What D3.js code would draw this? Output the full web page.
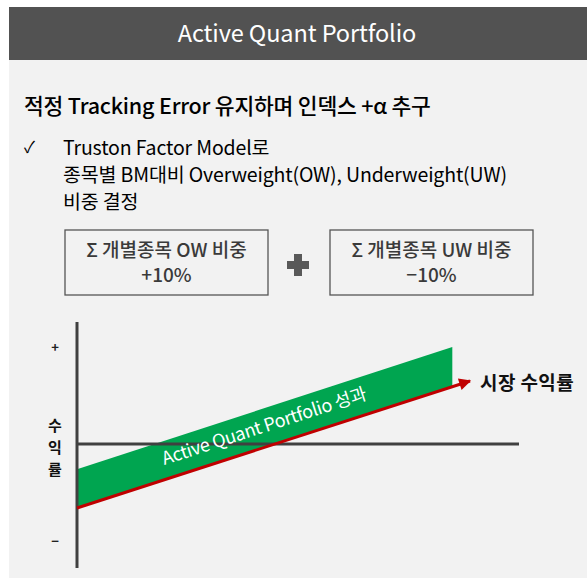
<!DOCTYPE html>
<html>
<head>
<meta charset="utf-8">
<script src="https://cdn.jsdelivr.net/npm/d3@7"></script>
<style>
  body { margin: 0; background: #fff; }
  svg { display: block; font-family: "Noto Sans CJK KR", "Noto Sans", sans-serif; }
</style>
</head>
<body>
<div class="chart"></div>
<script>
// Chart values
var headerTitle = "Active Quant Portfolio";
var subTitle = "적정 Tracking Error 유지하며 인덱스 +α 추구";
var bulletLines = ["Truston Factor Model로", "종목별 BM대비 Overweight(OW), Underweight(UW)", "비중 결정"];
var boxLabels = ["Σ 개별종목 OW 비중", "Σ 개별종목 UW 비중"];
var boxValues = ["+10%", "−10%"];
var yTickLabels = ["+", "−"];
var yTickValues = [1, -1];
var yAxisLabel = ["수", "익", "률"];

// Market return line (x, y) and portfolio band upper edge
var marketX = [0, 1];
var marketY = [-0.66, 0.65];
var portfolioX = [0, 0.955];
var portfolioTop = [-0.26, 1.0];
var marketLabel = "시장 수익률";
var bandLabel = "Active Quant Portfolio 성과";

var svgWidth = 587;
var svgHeight = 578;

var svg = d3.select(".chart")
  .append("svg")
  .attr("width", svgWidth)
  .attr("height", svgHeight);

// Background panel and header bar
svg.append("rect")
  .attr("x", 9).attr("y", 60)
  .attr("width", svgWidth - 9).attr("height", svgHeight - 60)
  .attr("fill", "#f2f2f2");

svg.append("rect")
  .attr("x", 9).attr("y", 7)
  .attr("width", svgWidth - 9).attr("height", 53)
  .attr("fill", "#525252");

svg.append("text")
  .attr("x", 297).attr("y", 42)
  .attr("text-anchor", "middle")
  .attr("fill", "#fff")
  .attr("font-size", 23.5)
  .attr("letter-spacing", -0.1)
  .text(headerTitle);

svg.append("text")
  .attr("x", 24).attr("y", 114)
  .attr("fill", "#000")
  .attr("font-size", 21.5)
  .attr("font-weight", 500)
  .attr("letter-spacing", -0.2)
  .text(subTitle);

// Bullet text
svg.append("text")
  .attr("x", 24).attr("y", 153)
  .attr("font-size", 16)
  .attr("fill", "#000")
  .text("✓");

svg.selectAll(".bullet")
  .data(bulletLines)
  .enter()
  .append("text")
  .attr("class", "bullet")
  .attr("x", 63)
  .attr("y", (d, i) => 155 + i * 27)
  .attr("font-size", 19.5)
  .attr("letter-spacing", -0.15)
  .attr("fill", "#000")
  .text(d => d);

// Boxes
var boxX = [65, 330];
var boxGroup = svg.selectAll(".box")
  .data(boxLabels)
  .enter()
  .append("g")
  .attr("class", "box")
  .attr("transform", (d, i) => `translate(${boxX[i]}, 230)`);

boxGroup.append("rect")
  .attr("width", 203).attr("height", 65)
  .attr("fill", "#f2f2f2")
  .attr("stroke", "#555")
  .attr("stroke-width", 1.3);

boxGroup.append("text")
  .attr("x", 101.5).attr("y", 27)
  .attr("text-anchor", "middle")
  .attr("font-size", 19)
  .attr("font-weight", 500)
  .attr("letter-spacing", 0)
  .attr("fill", "#3a3a3a")
  .text(d => d);

boxGroup.append("text")
  .attr("x", 101.5).attr("y", 52)
  .attr("text-anchor", "middle")
  .attr("font-size", 19)
  .attr("font-weight", 500)
  .attr("fill", "#3a3a3a")
  .text((d, i) => boxValues[i]);

// Plus sign between boxes
svg.append("path")
  .attr("d", "M294,254h8v7h7v8h-7v7h-8v-7h-7v-8h7z")
  .attr("fill", "#595959");

// Diagram scales
var xScale = d3.scaleLinear().domain([0, 1]).range([77, 470]);
var yScale = d3.scaleLinear().domain([-1, 1]).range([541, 347]);

// Green band between market line and portfolio top
var bandPoints = [
  [xScale(portfolioX[0]), yScale(portfolioTop[0])],
  [xScale(portfolioX[1]), yScale(portfolioTop[1])],
  [xScale(portfolioX[1]), yScale(marketY[0] + (marketY[1] - marketY[0]) * portfolioX[1] / marketX[1])],
  [xScale(marketX[0]), yScale(marketY[0])]
];
svg.append("path")
  .attr("d", d3.line()(bandPoints) + "Z")
  .attr("fill", "#00a550");

// Axes
svg.append("line")
  .attr("x1", xScale(0)).attr("x2", 519)
  .attr("y1", yScale(0)).attr("y2", yScale(0))
  .attr("stroke", "#404040").attr("stroke-width", 3);

svg.append("line")
  .attr("x1", xScale(0)).attr("x2", xScale(0))
  .attr("y1", 322).attr("y2", 568)
  .attr("stroke", "#404040").attr("stroke-width", 3);

svg.selectAll(".ytick")
  .data(yTickLabels)
  .enter()
  .append("text")
  .attr("class", "ytick")
  .attr("x", 55)
  .attr("y", (d, i) => yScale(yTickValues[i]) + 5)
  .attr("text-anchor", "middle")
  .attr("font-size", 13)
  .attr("font-weight", 700)
  .attr("fill", "#222")
  .text(d => d);

svg.selectAll(".ylabel")
  .data(yAxisLabel)
  .enter()
  .append("text")
  .attr("class", "ylabel")
  .attr("x", 55)
  .attr("y", (d, i) => 431 + i * 22)
  .attr("text-anchor", "middle")
  .attr("font-size", 15)
  .attr("font-weight", 700)
  .attr("fill", "#111")
  .text(d => d);

// Market line with arrow
svg.append("defs").append("marker")
  .attr("id", "arrow")
  .attr("viewBox", "0 0 10 10")
  .attr("refX", 9).attr("refY", 5)
  .attr("markerWidth", 5).attr("markerHeight", 4)
  .attr("markerUnits", "strokeWidth")
  .attr("orient", "auto")
  .append("path")
  .attr("d", "M0,0L10,5L0,10z")
  .attr("fill", "#c00000");

svg.append("line")
  .attr("x1", xScale(marketX[0])).attr("y1", yScale(marketY[0]))
  .attr("x2", xScale(marketX[1])).attr("y2", yScale(marketY[1]))
  .attr("stroke", "#c00000")
  .attr("stroke-width", 3)
  .attr("marker-end", "url(#arrow)");

svg.append("text")
  .attr("x", 480).attr("y", 390)
  .attr("font-size", 19)
  .attr("font-weight", 700)
  .attr("letter-spacing", 0.4)
  .attr("fill", "#111")
  .text(marketLabel);

// Band label, rotated along the slope
var angle = Math.atan2(yScale(portfolioTop[1]) - yScale(portfolioTop[0]), xScale(portfolioX[1]) - xScale(portfolioX[0])) * 180 / Math.PI;
svg.append("text")
  .attr("transform", `translate(266, 432) rotate(${angle})`)
  .attr("text-anchor", "middle")
  .attr("font-size", 18)
  .attr("letter-spacing", -0.3)
  .attr("fill", "#fff")
  .text(bandLabel);
</script>
</body>
</html>
